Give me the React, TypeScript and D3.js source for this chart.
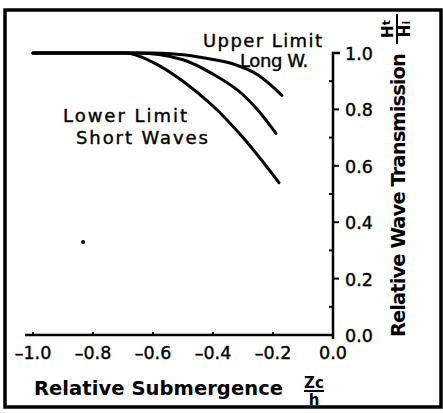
import React from "react";
import * as d3 from "d3";

// curves
const upperX = [-1.0, -0.6, -0.5, -0.4, -0.33, -0.25, -0.17];
const upperY = [1.0, 1.0, 0.994, 0.977, 0.96, 0.922, 0.85];
const middleX = [-1.0, -0.65, -0.5, -0.4, -0.3, -0.25, -0.19];
const middleY = [1.0, 1.0, 0.976, 0.925, 0.852, 0.797, 0.715];
const lowerX = [-1.0, -0.69, -0.6, -0.5, -0.4, -0.3, -0.18];
const lowerY = [1.0, 1.0, 0.967, 0.9, 0.812, 0.7, 0.54];

// stray speck on the original print
const speckX = [-0.833];
const speckY = [0.33];

const xTicks = [-1.0, -0.8, -0.6, -0.4, -0.2, 0.0];
const xTickLabels = ["–1.0", "–0.8", "–0.6", "–0.4", "–0.2", "0.0"];
const yTicks = [0.0, 0.2, 0.4, 0.6, 0.8, 1.0];
const yTickLabels = ["0.0", "0.2", "0.4", "0.6", "0.8", "1.0"];
const yMinor = [0.1, 0.3, 0.5, 0.7, 0.9];

const W = 443;
const H = 413;
const font = "'DejaVu Sans', sans-serif";

const zip = (xs: number[], ys: number[]) => xs.map((x, i) => [x, ys[i]] as [number, number]);

export default function App() {
  const x = d3.scaleLinear().domain([-1, 0]).range([33, 333]);
  const y = d3.scaleLinear().domain([0, 1]).range([335, 53]);

  const line = d3
    .line<[number, number]>()
    .x((d) => x(d[0]))
    .y((d) => y(d[1]))
    .curve(d3.curveMonotoneX);

  const curves = [zip(upperX, upperY), zip(middleX, middleY), zip(lowerX, lowerY)];
  const x0 = x(0);
  const y0 = y(0);
  const y1 = y(1);

  return (
    <div style={{ position: "absolute", left: 0, top: 0 }}>
      <svg width={W} height={H} style={{ display: "block", background: "#fff" }} fontFamily={font}>
        {/* frame */}
        <rect x={5} y={10} width={436} height={397} fill="none" stroke="#000" strokeWidth={3.5} />

        {/* x axis */}
        <line x1={x(-1) - 8} x2={x0} y1={y0} y2={y0} stroke="#000" strokeWidth={2.5} />
        {xTicks.map((t) => (
          <line key={t} x1={x(t)} x2={x(t)} y1={y0} y2={t === 0 ? y0 + 4 : y0 - 3} stroke="#000" strokeWidth={2} />
        ))}
        {xTicks.map((t, i) => (
          <text key={t} x={x(t)} y={359} textAnchor="middle" fontSize={17.5} stroke="#000" strokeWidth={0.4}>
            {xTickLabels[i]}
          </text>
        ))}

        {/* y axis */}
        <path d={`M${x0},${y0 + 4}V${y1}h7`} fill="none" stroke="#000" strokeWidth={2.5} />
        {yMinor.map((t) => (
          <line key={t} x1={x0} x2={x0 - 4} y1={y(t)} y2={y(t)} stroke="#000" strokeWidth={2} />
        ))}
        {yTicks.map((t) =>
          t > 0 && t < 1 ? (
            <line key={t} x1={x0} x2={x0 + 6} y1={y(t)} y2={y(t)} stroke="#000" strokeWidth={2} />
          ) : null
        )}
        {yTicks.map((t, i) => (
          <text key={t} x={345} y={y(t) + 7} fontSize={17.5} stroke="#000" strokeWidth={0.4}>
            {yTickLabels[i]}
          </text>
        ))}

        {/* curves */}
        {curves.map((c, i) => (
          <path key={i} d={line(c) || ""} fill="none" stroke="#000" strokeWidth={3} strokeLinecap="round" />
        ))}
        {speckX.map((v, i) => (
          <circle key={i} cx={x(v)} cy={y(speckY[i])} r={2} fill="#000" />
        ))}

        {/* annotations */}
        <g fontSize={18} stroke="#000" strokeWidth={0.4}>
          <text x={203} y={47} textLength={119} lengthAdjust="spacing">Upper Limit</text>
          <text x={240} y={67} letterSpacing={-0.4}>Long W.</text>
          <text x={63} y={122} textLength={124} lengthAdjust="spacing">Lower Limit</text>
          <text x={76} y={144} textLength={132} lengthAdjust="spacing">Short Waves</text>
        </g>

        {/* x title */}
        <text x={34} y={395} fontSize={19.5} fontWeight="bold" textLength={249} lengthAdjust="spacing">
          Relative Submergence
        </text>
        <g fontWeight="bold">
          <text x={314} y={388} fontSize={15} textAnchor="middle">Zc</text>
          <line x1={304} x2={324} y1={391} y2={391} stroke="#000" strokeWidth={2} />
          <text x={314} y={405} fontSize={15} textAnchor="middle">h</text>
        </g>

        {/* y title */}
        <text
          transform={`translate(405,337) rotate(-90)`}
          fontSize={19.5}
          fontWeight="bold"
          textLength={284}
          lengthAdjust="spacing"
        >
          Relative Wave Transmission
        </text>
        <g transform="translate(397,29) rotate(-90)" fontWeight="bold">
          <text x={0} y={-4} fontSize={15} textAnchor="middle">
            H<tspan fontSize={11} dy={-3}>t</tspan>
          </text>
          <line x1={-15} x2={15} y1={0} y2={0} stroke="#000" strokeWidth={2} />
          <text x={0} y={13} fontSize={15} textAnchor="middle">
            H<tspan fontSize={11}>i</tspan>
          </text>
        </g>
      </svg>
    </div>
  );
}
